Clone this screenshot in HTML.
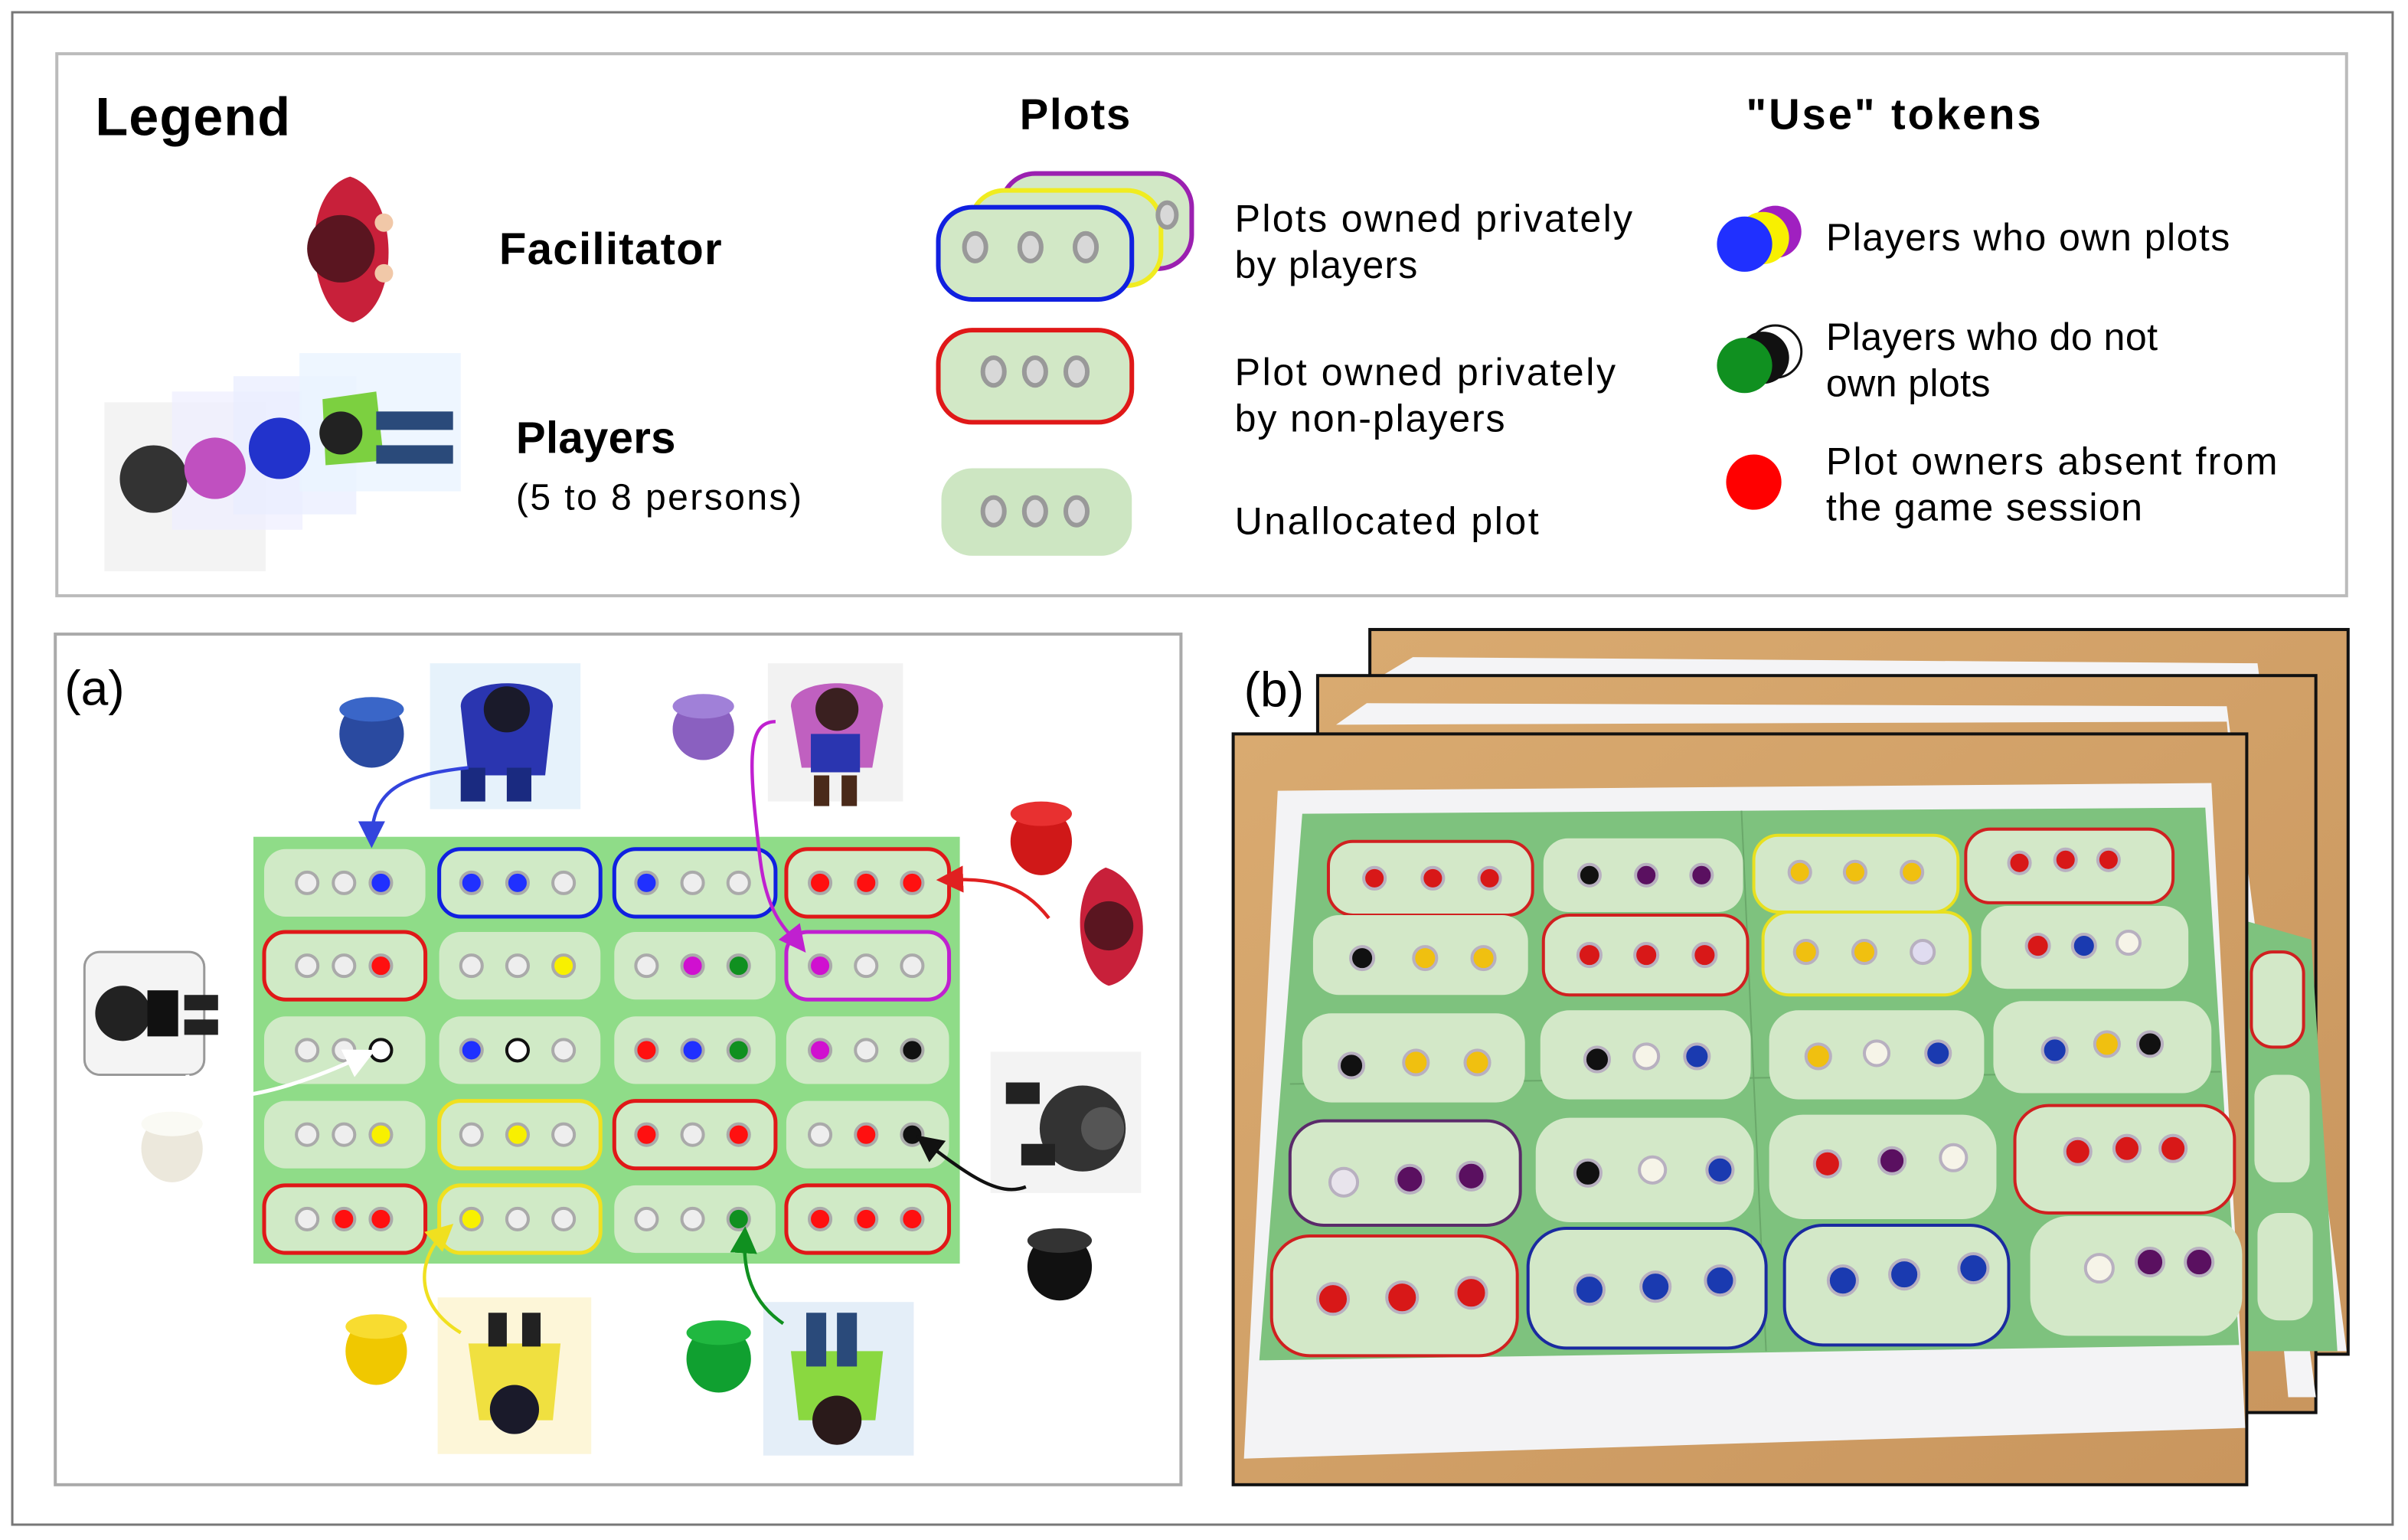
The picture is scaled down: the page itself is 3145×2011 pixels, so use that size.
<!DOCTYPE html>
<html><head><meta charset="utf-8"><style>
html,body{margin:0;padding:0;background:#fff;}
svg{display:block;}
text{font-family:"Liberation Sans",sans-serif;}
</style></head><body>
<svg width="3145" height="2011" viewBox="0 0 1568 1003" preserveAspectRatio="none" xmlns="http://www.w3.org/2000/svg">
<defs>
<marker id="ab" markerWidth="8" markerHeight="8" refX="6" refY="4" orient="auto"><path d="M0,0 L8,4 L0,8 Z" fill="#3344dd"/></marker>
<marker id="ar" markerWidth="8" markerHeight="8" refX="6" refY="4" orient="auto"><path d="M0,0 L8,4 L0,8 Z" fill="#e02020"/></marker>
<marker id="am" markerWidth="8" markerHeight="8" refX="6" refY="4" orient="auto"><path d="M0,0 L8,4 L0,8 Z" fill="#c020d0"/></marker>
<marker id="aw" markerWidth="8" markerHeight="8" refX="6" refY="4" orient="auto"><path d="M0,0 L8,4 L0,8 Z" fill="#ffffff"/></marker>
<marker id="ak" markerWidth="8" markerHeight="8" refX="6" refY="4" orient="auto"><path d="M0,0 L8,4 L0,8 Z" fill="#111"/></marker>
<marker id="ay" markerWidth="8" markerHeight="8" refX="6" refY="4" orient="auto"><path d="M0,0 L8,4 L0,8 Z" fill="#f0e020"/></marker>
<marker id="ag" markerWidth="8" markerHeight="8" refX="6" refY="4" orient="auto"><path d="M0,0 L8,4 L0,8 Z" fill="#109020"/></marker>
<linearGradient id="wood" x1="0" y1="0" x2="1" y2="1"><stop offset="0" stop-color="#d9aa70"/><stop offset="1" stop-color="#c9965e"/></linearGradient>
</defs>
<rect x="0" y="0" width="1568" height="1003" fill="#fff"/>
<rect x="8" y="8" width="1550" height="985" fill="none" stroke="#777" stroke-width="1.5"/>

<!-- LEGEND -->
<rect x="37" y="35" width="1491" height="353" fill="#fff" stroke="#bbb" stroke-width="2"/>
<text x="62" y="88" font-size="35" font-weight="bold" textLength="127">Legend</text>
<text x="664" y="84" font-size="28" font-weight="bold" textLength="72">Plots</text>
<text x="1137" y="84" font-size="28" font-weight="bold" textLength="192">"Use" tokens</text>

<!-- facilitator -->
<path d="M228,115 C260,125 262,200 230,210 C200,205 193,125 228,115 Z" fill="#c8203a"/>
<circle cx="222" cy="162" r="22" fill="#5a1520"/>
<circle cx="250" cy="145" r="6" fill="#f1c8a8"/><circle cx="250" cy="178" r="6" fill="#f1c8a8"/>
<text x="325" y="172" font-size="29" font-weight="bold" textLength="145">Facilitator</text>

<!-- players stack -->
<rect x="68" y="262" width="105" height="110" fill="#f0f0f0" opacity="0.8"/>
<rect x="112" y="255" width="85" height="90" fill="#eef" opacity="0.7"/>
<rect x="152" y="245" width="80" height="90" fill="#e8ecff" opacity="0.7"/>
<rect x="195" y="230" width="105" height="90" fill="#eaf4ff" opacity="0.8"/>
<circle cx="100" cy="312" r="22" fill="#333"/>
<circle cx="140" cy="305" r="20" fill="#c050c0"/>
<circle cx="182" cy="292" r="20" fill="#2233cc"/>
<path d="M210,260 L245,255 L250,300 L212,303 Z" fill="#7cd040"/>
<circle cx="222" cy="282" r="14" fill="#222"/>
<rect x="245" y="268" width="50" height="12" fill="#2a4a7a"/><rect x="245" y="290" width="50" height="12" fill="#2a4a7a"/>
<text x="336" y="295" font-size="29" font-weight="bold" textLength="104">Players</text>
<text x="336" y="332" font-size="24" textLength="186">(5 to 8 persons)</text>

<!-- plot icons -->
<rect x="652" y="113" width="124" height="62" rx="22" fill="#d2e8c6" stroke="#9b20b0" stroke-width="3"/>
<rect x="632" y="124" width="124" height="62" rx="22" fill="#d2e8c6" stroke="#f0ec20" stroke-width="3"/>
<rect x="611" y="135" width="126" height="60" rx="22" fill="#d2e8c6" stroke="#1020e0" stroke-width="3"/>
<g fill="#d8d8d8" stroke="#999" stroke-width="3">
<ellipse cx="635" cy="161" rx="7" ry="9"/><ellipse cx="671" cy="161" rx="7" ry="9"/><ellipse cx="707" cy="161" rx="7" ry="9"/><ellipse cx="760" cy="140" rx="6" ry="8"/>
</g>
<rect x="611" y="215" width="126" height="60" rx="22" fill="#d2e8c6" stroke="#e01818" stroke-width="3"/>
<rect x="613" y="305" width="124" height="57" rx="20" fill="#cde6c2"/>
<g fill="#d8d8d8" stroke="#999" stroke-width="3">
<ellipse cx="647" cy="242" rx="7" ry="9"/><ellipse cx="674" cy="242" rx="7" ry="9"/><ellipse cx="701" cy="242" rx="7" ry="9"/>
<ellipse cx="647" cy="333" rx="7" ry="9"/><ellipse cx="674" cy="333" rx="7" ry="9"/><ellipse cx="701" cy="333" rx="7" ry="9"/>
</g>
<text font-size="25"><tspan x="804" y="151" textLength="259">Plots owned privately</tspan><tspan x="804" y="181" textLength="119">by players</tspan></text>
<text font-size="25"><tspan x="804" y="251" textLength="248">Plot owned privately</tspan><tspan x="804" y="281" textLength="176">by non-players</tspan></text>
<text x="804" y="348" font-size="25" textLength="198">Unallocated plot</text>

<!-- tokens -->
<circle cx="1156" cy="151" r="17" fill="#a020c0"/><circle cx="1148" cy="155" r="17" fill="#f8f000"/><circle cx="1136" cy="159" r="18" fill="#2030ff"/>
<circle cx="1156" cy="229" r="17" fill="#fff" stroke="#111" stroke-width="1.5"/><circle cx="1148" cy="233" r="17" fill="#111"/><circle cx="1136" cy="238" r="18" fill="#109020"/>
<circle cx="1142" cy="314" r="18" fill="#ff0000"/>
<text x="1189" y="163" font-size="25" textLength="263">Players who own plots</text>
<text font-size="25"><tspan x="1189" y="228" textLength="216">Players who do not</tspan><tspan x="1189" y="258" textLength="107">own plots</tspan></text>
<text font-size="25"><tspan x="1189" y="309" textLength="294">Plot owners absent from</tspan><tspan x="1189" y="339" textLength="206">the game session</tspan></text>

<!-- PANEL A -->
<rect x="36" y="413" width="733" height="554" fill="#fff" stroke="#aaa" stroke-width="2"/>
<text x="42" y="459" font-size="32">(a)</text>
<rect x="165" y="545" width="460" height="278" fill="#8fdc88"/>
<g>
<rect x="172" y="553" width="105" height="44" rx="14" fill="#d0eac6"/>
<rect x="286" y="553" width="105" height="44" rx="14" fill="#d0eac6" stroke="#1020e0" stroke-width="2.5"/>
<rect x="400" y="553" width="105" height="44" rx="14" fill="#d0eac6" stroke="#1020e0" stroke-width="2.5"/>
<rect x="512" y="553" width="106" height="44" rx="14" fill="#d0eac6" stroke="#e01818" stroke-width="2.5"/>
<rect x="172" y="607" width="105" height="44" rx="14" fill="#d0eac6" stroke="#e01818" stroke-width="2.5"/>
<rect x="286" y="607" width="105" height="44" rx="14" fill="#d0eac6"/>
<rect x="400" y="607" width="105" height="44" rx="14" fill="#d0eac6"/>
<rect x="512" y="607" width="106" height="44" rx="14" fill="#d0eac6" stroke="#c020d0" stroke-width="2.5"/>
<rect x="172" y="662" width="105" height="44" rx="14" fill="#d0eac6"/>
<rect x="286" y="662" width="105" height="44" rx="14" fill="#d0eac6"/>
<rect x="400" y="662" width="105" height="44" rx="14" fill="#d0eac6"/>
<rect x="512" y="662" width="106" height="44" rx="14" fill="#d0eac6"/>
<rect x="172" y="717" width="105" height="44" rx="14" fill="#d0eac6"/>
<rect x="286" y="717" width="105" height="44" rx="14" fill="#d0eac6" stroke="#f0e020" stroke-width="2.5"/>
<rect x="400" y="717" width="105" height="44" rx="14" fill="#d0eac6" stroke="#e01818" stroke-width="2.5"/>
<rect x="512" y="717" width="106" height="44" rx="14" fill="#d0eac6"/>
<rect x="172" y="772" width="105" height="44" rx="14" fill="#d0eac6" stroke="#e01818" stroke-width="2.5"/>
<rect x="286" y="772" width="105" height="44" rx="14" fill="#d0eac6" stroke="#f0e020" stroke-width="2.5"/>
<rect x="400" y="772" width="105" height="44" rx="14" fill="#d0eac6"/>
<rect x="512" y="772" width="106" height="44" rx="14" fill="#d0eac6" stroke="#e01818" stroke-width="2.5"/>
</g>
<g stroke="#aaa" stroke-width="2">
<circle cx="200" cy="575" r="7" fill="#eee"/><circle cx="224" cy="575" r="7" fill="#eee"/><circle cx="248" cy="575" r="7" fill="#2030ff"/>
<circle cx="307" cy="575" r="7" fill="#2030ff"/><circle cx="337" cy="575" r="7" fill="#2030ff"/><circle cx="367" cy="575" r="7" fill="#eee"/>
<circle cx="421" cy="575" r="7" fill="#2030ff"/><circle cx="451" cy="575" r="7" fill="#eee"/><circle cx="481" cy="575" r="7" fill="#eee"/>
<circle cx="534" cy="575" r="7" fill="#ff1010"/><circle cx="564" cy="575" r="7" fill="#ff1010"/><circle cx="594" cy="575" r="7" fill="#ff1010"/>
<circle cx="200" cy="629" r="7" fill="#eee"/><circle cx="224" cy="629" r="7" fill="#eee"/><circle cx="248" cy="629" r="7" fill="#ff1010"/>
<circle cx="307" cy="629" r="7" fill="#eee"/><circle cx="337" cy="629" r="7" fill="#eee"/><circle cx="367" cy="629" r="7" fill="#f8f000"/>
<circle cx="421" cy="629" r="7" fill="#eee"/><circle cx="451" cy="629" r="7" fill="#d010d0"/><circle cx="481" cy="629" r="7" fill="#109020"/>
<circle cx="534" cy="629" r="7" fill="#d010d0"/><circle cx="564" cy="629" r="7" fill="#eee"/><circle cx="594" cy="629" r="7" fill="#eee"/>
<circle cx="200" cy="684" r="7" fill="#eee"/><circle cx="224" cy="684" r="7" fill="#eee"/><circle cx="248" cy="684" r="7" fill="#fff" stroke="#111"/>
<circle cx="307" cy="684" r="7" fill="#2030ff"/><circle cx="337" cy="684" r="7" fill="#fff" stroke="#111"/><circle cx="367" cy="684" r="7" fill="#eee"/>
<circle cx="421" cy="684" r="7" fill="#ff1010"/><circle cx="451" cy="684" r="7" fill="#2030ff"/><circle cx="481" cy="684" r="7" fill="#109020"/>
<circle cx="534" cy="684" r="7" fill="#d010d0"/><circle cx="564" cy="684" r="7" fill="#eee"/><circle cx="594" cy="684" r="7" fill="#111"/>
<circle cx="200" cy="739" r="7" fill="#eee"/><circle cx="224" cy="739" r="7" fill="#eee"/><circle cx="248" cy="739" r="7" fill="#f8f000"/>
<circle cx="307" cy="739" r="7" fill="#eee"/><circle cx="337" cy="739" r="7" fill="#f8f000"/><circle cx="367" cy="739" r="7" fill="#eee"/>
<circle cx="421" cy="739" r="7" fill="#ff1010"/><circle cx="451" cy="739" r="7" fill="#eee"/><circle cx="481" cy="739" r="7" fill="#ff1010"/>
<circle cx="534" cy="739" r="7" fill="#eee"/><circle cx="564" cy="739" r="7" fill="#ff1010"/><circle cx="594" cy="739" r="7" fill="#111"/>
<circle cx="200" cy="794" r="7" fill="#eee"/><circle cx="224" cy="794" r="7" fill="#ff1010"/><circle cx="248" cy="794" r="7" fill="#ff1010"/>
<circle cx="307" cy="794" r="7" fill="#f8f000"/><circle cx="337" cy="794" r="7" fill="#eee"/><circle cx="367" cy="794" r="7" fill="#eee"/>
<circle cx="421" cy="794" r="7" fill="#eee"/><circle cx="451" cy="794" r="7" fill="#eee"/><circle cx="481" cy="794" r="7" fill="#109020"/>
<circle cx="534" cy="794" r="7" fill="#ff1010"/><circle cx="564" cy="794" r="7" fill="#ff1010"/><circle cx="594" cy="794" r="7" fill="#ff1010"/>
</g>

<!-- people & token stacks -->
<rect x="280" y="432" width="98" height="95" fill="#e6f2fb"/>
<path d="M300,460 C300,440 360,440 360,460 L355,505 L305,505 Z" fill="#2a35b0"/>
<circle cx="330" cy="462" r="15" fill="#1a1a2a"/>
<rect x="300" y="500" width="16" height="22" fill="#1a2a80"/><rect x="330" y="500" width="16" height="22" fill="#1a2a80"/>
<ellipse cx="242" cy="478" rx="21" ry="22" fill="#2a4aa0"/><ellipse cx="242" cy="462" rx="21" ry="8" fill="#3a66c8"/>
<rect x="500" y="432" width="88" height="90" fill="#f2f2f2"/>
<path d="M515,460 C515,440 575,440 575,460 L568,500 L522,500 Z" fill="#c060c0"/>
<circle cx="545" cy="462" r="14" fill="#3a2020"/>
<rect x="528" y="478" width="32" height="25" fill="#2a35b0"/>
<rect x="530" y="505" width="10" height="20" fill="#4a2a1a"/><rect x="548" y="505" width="10" height="20" fill="#4a2a1a"/>
<ellipse cx="458" cy="475" rx="20" ry="20" fill="#8a60c0"/><ellipse cx="458" cy="460" rx="20" ry="8" fill="#a080d8"/>
<path d="M720,565 C752,575 752,635 722,642 C700,635 695,575 720,565 Z" fill="#c8203a"/>
<circle cx="722" cy="603" r="16" fill="#5a1520"/>
<ellipse cx="678" cy="548" rx="20" ry="22" fill="#d01818"/><ellipse cx="678" cy="530" rx="20" ry="8" fill="#e83030"/>
<rect x="55" y="620" width="78" height="80" rx="10" fill="#f4f4f4" stroke="#999" stroke-width="1.5"/>
<circle cx="80" cy="660" r="18" fill="#222"/><rect x="96" y="645" width="20" height="30" fill="#111"/>
<rect x="120" y="648" width="22" height="10" fill="#222"/><rect x="120" y="664" width="22" height="10" fill="#222"/>
<ellipse cx="112" cy="748" rx="20" ry="22" fill="#ece8dc"/><ellipse cx="112" cy="732" rx="20" ry="8" fill="#fafaf4"/>
<rect x="645" y="685" width="98" height="92" fill="#f3f3f3"/>
<circle cx="705" cy="735" r="28" fill="#333"/><circle cx="718" cy="735" r="14" fill="#555"/>
<rect x="655" y="705" width="22" height="14" fill="#222"/><rect x="665" y="745" width="22" height="14" fill="#222"/>
<ellipse cx="690" cy="825" rx="21" ry="22" fill="#111"/><ellipse cx="690" cy="808" rx="21" ry="8" fill="#333"/>
<rect x="285" y="845" width="100" height="102" fill="#fdf6d8"/>
<path d="M305,875 L365,875 L360,925 L312,925 Z" fill="#f0e040"/>
<circle cx="335" cy="918" r="16" fill="#1a1a2a"/>
<rect x="318" y="855" width="12" height="22" fill="#222"/><rect x="340" y="855" width="12" height="22" fill="#222"/>
<ellipse cx="245" cy="880" rx="20" ry="22" fill="#f0c800"/><ellipse cx="245" cy="864" rx="20" ry="8" fill="#f8dc30"/>
<rect x="497" y="848" width="98" height="100" fill="#e4eef8"/>
<path d="M515,880 L575,880 L570,925 L520,925 Z" fill="#8ad840"/>
<circle cx="545" cy="925" r="16" fill="#2a1a1a"/>
<rect x="525" y="855" width="13" height="35" fill="#2a4a7a"/><rect x="545" y="855" width="13" height="35" fill="#2a4a7a"/>
<ellipse cx="468" cy="885" rx="21" ry="22" fill="#10a030"/><ellipse cx="468" cy="868" rx="21" ry="8" fill="#20b840"/>

<g fill="none" stroke-width="2.2">
<path d="M305,500 C260,505 242,515 242,548" stroke="#3344dd" marker-end="url(#ab)"/>
<path d="M683,598 C665,575 645,572 614,573" stroke="#e02020" marker-end="url(#ar)"/>
<path d="M505,470 C485,470 488,500 495,560 C500,600 515,608 522,617" stroke="#c020d0" marker-end="url(#am)"/>
<path d="M122,700 C125,725 180,715 240,686" stroke="#ffffff" stroke-width="2.5" marker-end="url(#aw)"/>
<path d="M668,773 C650,780 630,765 600,742" stroke="#111" marker-end="url(#ak)"/>
<path d="M300,868 C270,850 270,820 292,800" stroke="#f0e020" marker-end="url(#ay)"/>
<path d="M510,862 C485,845 484,820 485,803" stroke="#109020" marker-end="url(#ag)"/>
</g>

<!-- PANEL B -->
<text x="810" y="460" font-size="32">(b)</text>
<rect x="892" y="410" width="637" height="472" fill="url(#wood)" stroke="#111" stroke-width="2"/>
<polygon points="920,428 1470,432 1528,880 1500,880 1462,445 900,440" fill="#f4f4f6"/>
<rect x="858" y="440" width="650" height="480" fill="url(#wood)" stroke="#111" stroke-width="2"/>
<polygon points="890,458 1450,460 1508,910 1490,910 1450,470 870,472" fill="#f4f4f6"/>
<polygon points="1463,600 1505,612 1522,880 1463,880" fill="#7ec27e"/>
<rect x="1466" y="620" width="34" height="62" rx="14" fill="#d3e8c8" stroke="#d02020" stroke-width="2"/>
<rect x="1468" y="700" width="36" height="70" rx="14" fill="#d3e8c8"/>
<rect x="1470" y="790" width="36" height="70" rx="14" fill="#d3e8c8"/>
<rect x="803" y="478" width="660" height="489" fill="url(#wood)" stroke="#111" stroke-width="2"/>
<polygon points="832,515 1440,510 1462,930 810,950" fill="#f3f3f5"/>
<polygon points="848,530 1436,526 1458,876 820,886" fill="#7ec27e"/>
<line x1="1134" y1="528" x2="1150" y2="880" stroke="#6aa86a" stroke-width="1"/>
<line x1="840" y1="706" x2="1446" y2="698" stroke="#6aa86a" stroke-width="1"/>
<g fill="#d3e8c8" stroke-width="2">
<rect x="865" y="548" width="133" height="48" rx="16" stroke="#d02020"/>
<rect x="1005" y="546" width="130" height="48" rx="16" stroke="none"/>
<rect x="1142" y="544" width="133" height="50" rx="16" stroke="#e8e020"/>
<rect x="1280" y="540" width="135" height="48" rx="16" stroke="#d02020"/>
<rect x="855" y="596" width="140" height="52" rx="17" stroke="none"/>
<rect x="1005" y="596" width="133" height="52" rx="17" stroke="#d02020"/>
<rect x="1148" y="594" width="135" height="54" rx="17" stroke="#e8e020"/>
<rect x="1290" y="590" width="135" height="54" rx="17" stroke="none"/>
<rect x="848" y="660" width="145" height="58" rx="19" stroke="none"/>
<rect x="1003" y="658" width="137" height="58" rx="19" stroke="none"/>
<rect x="1152" y="658" width="140" height="58" rx="19" stroke="none"/>
<rect x="1298" y="652" width="142" height="60" rx="19" stroke="none"/>
<rect x="840" y="730" width="150" height="68" rx="22" stroke="#5a2a6a"/>
<rect x="1000" y="728" width="142" height="68" rx="22" stroke="none"/>
<rect x="1152" y="726" width="148" height="68" rx="22" stroke="none"/>
<rect x="1312" y="720" width="143" height="70" rx="22" stroke="#d02020"/>
<rect x="828" y="805" width="160" height="78" rx="25" stroke="#d02020"/>
<rect x="995" y="800" width="155" height="78" rx="25" stroke="#1a2aa0"/>
<rect x="1162" y="798" width="146" height="78" rx="25" stroke="#1a2aa0"/>
<rect x="1322" y="792" width="138" height="78" rx="25" stroke="none"/>
</g>
<g stroke="#b8b0c0" stroke-width="2">
<circle cx="895" cy="572" r="7" fill="#d81818"/><circle cx="933" cy="572" r="7" fill="#d81818"/><circle cx="970" cy="572" r="7" fill="#d81818"/>
<circle cx="1035" cy="570" r="7" fill="#111"/><circle cx="1072" cy="570" r="7" fill="#5a1060"/><circle cx="1108" cy="570" r="7" fill="#5a1060"/>
<circle cx="1172" cy="568" r="7" fill="#f0c010"/><circle cx="1208" cy="568" r="7" fill="#f0c010"/><circle cx="1245" cy="568" r="7" fill="#f0c010"/>
<circle cx="1315" cy="562" r="7" fill="#d81818"/><circle cx="1345" cy="560" r="7" fill="#d81818"/><circle cx="1373" cy="560" r="7" fill="#d81818"/>
<circle cx="887" cy="624" r="7.5" fill="#111"/><circle cx="928" cy="624" r="7.5" fill="#f0c010"/><circle cx="966" cy="624" r="7.5" fill="#f0c010"/>
<circle cx="1035" cy="622" r="7.5" fill="#d81818"/><circle cx="1072" cy="622" r="7.5" fill="#d81818"/><circle cx="1110" cy="622" r="7.5" fill="#d81818"/>
<circle cx="1176" cy="620" r="7.5" fill="#f0c010"/><circle cx="1214" cy="620" r="7.5" fill="#f0c010"/><circle cx="1252" cy="620" r="7.5" fill="#e0dcf0"/>
<circle cx="1327" cy="616" r="7.5" fill="#d81818"/><circle cx="1357" cy="616" r="7.5" fill="#1a3ab0"/><circle cx="1386" cy="614" r="7.5" fill="#f6f4e8"/>
<circle cx="880" cy="694" r="8" fill="#111"/><circle cx="922" cy="692" r="8" fill="#f0c010"/><circle cx="962" cy="692" r="8" fill="#f0c010"/>
<circle cx="1040" cy="690" r="8" fill="#111"/><circle cx="1072" cy="688" r="8" fill="#f6f4e8"/><circle cx="1105" cy="688" r="8" fill="#1a3ab0"/>
<circle cx="1184" cy="688" r="8" fill="#f0c010"/><circle cx="1222" cy="686" r="8" fill="#f6f4e8"/><circle cx="1262" cy="686" r="8" fill="#1a3ab0"/>
<circle cx="1338" cy="684" r="8" fill="#1a3ab0"/><circle cx="1372" cy="680" r="8" fill="#f0c010"/><circle cx="1400" cy="680" r="8" fill="#111"/>
<circle cx="875" cy="770" r="9" fill="#e8e4ec"/><circle cx="918" cy="768" r="9" fill="#5a1060"/><circle cx="958" cy="766" r="9" fill="#5a1060"/>
<circle cx="1034" cy="764" r="8.5" fill="#111"/><circle cx="1076" cy="762" r="8.5" fill="#f6f4e8"/><circle cx="1120" cy="762" r="8.5" fill="#1a3ab0"/>
<circle cx="1190" cy="758" r="8.5" fill="#d81818"/><circle cx="1232" cy="756" r="8.5" fill="#5a1060"/><circle cx="1272" cy="754" r="8.5" fill="#f6f4e8"/>
<circle cx="1353" cy="750" r="8.5" fill="#d81818"/><circle cx="1385" cy="748" r="8.5" fill="#d81818"/><circle cx="1415" cy="748" r="8.5" fill="#d81818"/>
<circle cx="868" cy="846" r="10" fill="#d81818"/><circle cx="913" cy="845" r="10" fill="#d81818"/><circle cx="958" cy="842" r="10" fill="#d81818"/>
<circle cx="1035" cy="840" r="9.5" fill="#1a3ab0"/><circle cx="1078" cy="838" r="9.5" fill="#1a3ab0"/><circle cx="1120" cy="834" r="9.5" fill="#1a3ab0"/>
<circle cx="1200" cy="834" r="9.5" fill="#1a3ab0"/><circle cx="1240" cy="830" r="9.5" fill="#1a3ab0"/><circle cx="1285" cy="826" r="9.5" fill="#1a3ab0"/>
<circle cx="1367" cy="826" r="9" fill="#f6f4e8"/><circle cx="1400" cy="822" r="9" fill="#5a1060"/><circle cx="1432" cy="822" r="9" fill="#5a1060"/>
</g>
</svg>
</body></html>
